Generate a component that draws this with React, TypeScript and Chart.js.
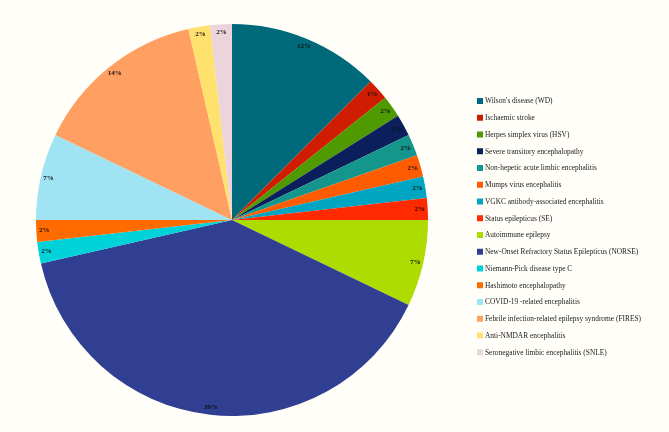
import React, { useEffect, useRef } from "react";
import { Chart, registerables } from "chart.js";

Chart.register(...registerables);

const categories = [
  "Wilson's disease (WD)",
  "Ischaemic stroke",
  "Herpes simplex virus (HSV)",
  "Severe transitory encephalopathy",
  "Non-hepetic acute limbic encephalitis",
  "Mumps virus encephalitis",
  "VGKC antibody-associated encephalitis",
  "Status epilepticus (SE)",
  "Autoimmune epilepsy",
  "New-Onset Refractory Status Epilepticus (NORSE)",
  "Niemann-Pick disease type C",
  "Hashimoto encephalopathy",
  "COVID-19 -related encephalitis",
  "Febrile infection-related epilepsy syndrome (FIRES)",
  "Anti-NMDAR encephalitis",
  "Seronegative limbic encephalitis (SNLE)",
];

const counts = [7, 1, 1, 1, 1, 1, 1, 1, 4, 22, 1, 1, 4, 8, 1, 1];

const percentLabels = [
  "12%", "1%", "2%", "2%", "2%", "2%", "2%", "2%",
  "7%", "39%", "2%", "2%", "7%", "14%", "2%", "2%",
];

const colors = [
  "#006A7A", "#D01C00", "#4F9A00", "#0B1F5C", "#14968C", "#FF5B00",
  "#00A5C2", "#FF2A00", "#AEDB00", "#303F91", "#00D2DA", "#FF6B00",
  "#A0E4F4", "#FF9F62", "#FFE16E", "#EBD5DA",
];

const BG = "#FFFEF8";

const bgPlugin = {
  id: "bgFill",
  beforeDraw(chart: any) {
    const { ctx, width, height } = chart;
    ctx.save();
    ctx.fillStyle = BG;
    ctx.fillRect(0, 0, width, height);
    ctx.restore();
  },
};

const sliceLabelPlugin = {
  id: "sliceLabels",
  afterDatasetsDraw(chart: any) {
    const { ctx } = chart;
    const meta = chart.getDatasetMeta(0);
    ctx.save();
    ctx.font = "bold 7px 'Liberation Serif', serif";
    ctx.fillStyle = "#111";
    ctx.textAlign = "center";
    ctx.textBaseline = "middle";
    meta.data.forEach((arc: any, i: number) => {
      const { x, y, startAngle, endAngle, outerRadius } = arc.getProps(
        ["x", "y", "startAngle", "endAngle", "outerRadius"],
        true
      );
      const mid = (startAngle + endAngle) / 2;
      const r = outerRadius * 0.96;
      ctx.fillText(percentLabels[i], x + Math.cos(mid) * r, y + Math.sin(mid) * r);
    });
    ctx.restore();
  },
};

const legendPlugin = {
  id: "customLegend",
  afterDraw(chart: any) {
    const { ctx } = chart;
    const x0 = 477;
    const y0 = 101;
    const step = 16.75;
    ctx.save();
    ctx.font = "7.4px 'Liberation Serif', serif";
    ctx.textBaseline = "middle";
    ctx.textAlign = "left";
    categories.forEach((c, i) => {
      const y = y0 + i * step;
      ctx.fillStyle = colors[i];
      ctx.fillRect(x0, y - 3, 6, 6);
      ctx.fillStyle = "#222";
      ctx.fillText(c, x0 + 8, y + 0.5);
    });
    ctx.restore();
  },
};

export default function App() {
  const ref = useRef<HTMLCanvasElement>(null);
  useEffect(() => {
    document.body.style.margin = "0";
    const chart = new Chart(ref.current!, {
      type: "pie",
      data: {
        labels: categories,
        datasets: [
          {
            data: counts,
            backgroundColor: colors,
            borderWidth: 0,
          },
        ],
      },
      options: {
        animation: false,
        responsive: false,
        layout: { padding: { left: 36, top: 24, right: 241, bottom: 16 } },
        plugins: {
          legend: { display: false },
          tooltip: { enabled: false },
        },
      },
      plugins: [bgPlugin, sliceLabelPlugin, legendPlugin],
    });
    return () => chart.destroy();
  }, []);
  return (
    <div style={{ width: 669, height: 432, background: BG }}>
      <canvas ref={ref} width={669} height={432} style={{ display: "block" }} />
    </div>
  );
}
